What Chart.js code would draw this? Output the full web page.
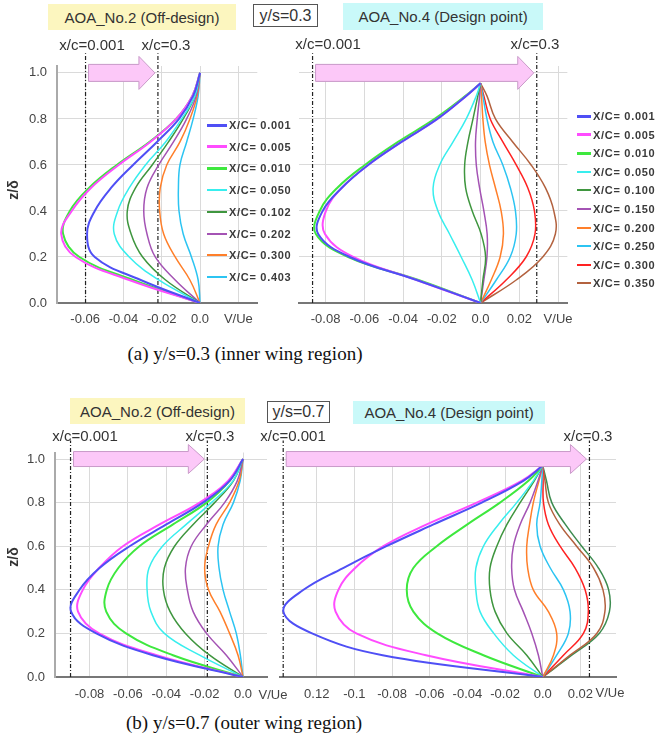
<!DOCTYPE html>
<html><head><meta charset="utf-8">
<script src="https://cdn.jsdelivr.net/npm/chart.js@4.4.1/dist/chart.umd.min.js"></script>
<style>
html,body{margin:0;padding:0;background:#fff;}
#wrap{position:relative;width:660px;height:742px;overflow:hidden;background:#fff;font-family:'Liberation Sans',Arial,sans-serif;color:#333;}
canvas{position:absolute;}
.t{position:absolute;transform:translate(-50%,-50%);white-space:nowrap;line-height:1;}
.box{position:absolute;display:flex;align-items:center;justify-content:center;font-size:15px;color:#333;box-sizing:border-box;white-space:nowrap;}
.cap{position:absolute;transform:translate(-50%,-50%);font-family:'Liberation Serif','Times New Roman',serif;font-size:19px;color:#111;white-space:nowrap;line-height:1;}
.leg{position:absolute;overflow:hidden;}
.leg .row{position:absolute;left:0;height:14px;display:flex;align-items:center;font-weight:bold;font-size:11px;letter-spacing:0.7px;color:#3a3a3a;white-space:nowrap;}
</style></head>
<body><div id="wrap"></div>
<script>
// ---------- heights (z/delta) ----------
const zA = [0,0.1,0.2,0.3,0.4,0.5,0.6,0.7,0.8,0.9,1.0];
const zB = [0,0.1,0.2,0.3,0.4,0.5,0.6,0.7,0.8,0.9,0.955];
const zC = [0,0.1,0.2,0.3,0.4,0.5,0.6,0.7,0.8,0.9,1.0];
const zD = [0,0.1,0.2,0.3,0.4,0.5,0.6,0.7,0.8,0.9,0.97];

// ---------- series labels ----------
const labelsA = ['X/C= 0.001','X/C= 0.005','X/C= 0.010','X/C= 0.050','X/C= 0.102','X/C= 0.202','X/C= 0.300','X/C= 0.403'];
const labelsB = ['X/C= 0.001','X/C= 0.005','X/C= 0.010','X/C= 0.050','X/C= 0.100','X/C= 0.150','X/C= 0.200','X/C= 0.250','X/C= 0.300','X/C= 0.350'];
const labelsC = ['X/C= 0.001','X/C= 0.005','X/C= 0.010','X/C= 0.050','X/C= 0.102','X/C= 0.202','X/C= 0.300','X/C= 0.403'];
const labelsD = ['X/C= 0.001','X/C= 0.005','X/C= 0.010','X/C= 0.050','X/C= 0.100','X/C= 0.150','X/C= 0.200','X/C= 0.250','X/C= 0.300','X/C= 0.350','X/C= 0.400'];

// ---------- (a) y/s=0.3, AOA_No.2 : V/Ue ----------
const A001 = [0,-0.031,-0.055,-0.059,-0.055,-0.0465,-0.035,-0.0225,-0.011,-0.0036,0];
const A005 = [0,-0.037,-0.065,-0.0725,-0.067,-0.057,-0.0425,-0.026,-0.0125,-0.004,0];
const A010 = [0,-0.035,-0.063,-0.0715,-0.068,-0.058,-0.0435,-0.0265,-0.0125,-0.004,0];
const A050 = [0,-0.0216,-0.037,-0.0448,-0.043,-0.037,-0.0285,-0.018,-0.0096,-0.0027,0];
const A102 = [0,-0.018,-0.030,-0.036,-0.038,-0.0337,-0.025,-0.0165,-0.0088,-0.0027,0];
const A202 = [0,-0.013,-0.0234,-0.0277,-0.0294,-0.0277,-0.0216,-0.0139,-0.007,-0.002,0];
const A300 = [0,-0.0053,-0.013,-0.019,-0.0211,-0.0208,-0.0174,-0.0105,-0.0053,-0.0015,0];
const A403 = [0,-0.001,-0.0045,-0.0088,-0.011,-0.0113,-0.0105,-0.007,-0.0036,-0.001,0];

// ---------- (a) y/s=0.3, AOA_No.4 ----------
const B001 = [0,-0.033,-0.0675,-0.0838,-0.0815,-0.0717,-0.058,-0.0408,-0.0223,-0.0074,0];
const B005 = [0,-0.033,-0.0657,-0.0803,-0.0798,-0.0717,-0.058,-0.0408,-0.0223,-0.0074,0];
const B010 = [0,-0.032,-0.0683,-0.085,-0.083,-0.074,-0.0597,-0.0426,-0.0237,-0.0078,0];
const B050 = [0,-0.0043,-0.010,-0.016,-0.022,-0.0245,-0.0211,-0.0142,-0.0074,-0.0022,0];
const B100 = [0,0.0012,0.0026,0.0003,-0.0043,-0.0077,-0.0082,-0.0065,-0.0039,-0.0014,0];
const B150 = [0,0.0017,0.0033,0.0034,0.0017,-0.0005,-0.0022,-0.0026,-0.0017,-0.0005,0];
const B200 = [0,0.0055,0.0101,0.0118,0.0106,0.0077,0.0046,0.0024,0.0012,0.0005,0];
const B250 = [0,0.0081,0.0153,0.0184,0.018,0.0154,0.0115,0.0064,0.0033,0.0012,0];
const B300 = [0,0.0132,0.0235,0.0281,0.0278,0.0244,0.0184,0.0115,0.005,0.0017,0];
const B350 = [0,0.0184,0.0321,0.0386,0.0378,0.0335,0.0261,0.0166,0.0077,0.0033,0];

// ---------- (b) y/s=0.7, AOA_No.2 ----------
const C001 = [0,-0.047,-0.0765,-0.0896,-0.0852,-0.0748,-0.0591,-0.040,-0.0209,-0.007,0];
const C005 = [0,-0.045,-0.075,-0.086,-0.0835,-0.075,-0.0626,-0.0435,-0.0226,-0.0078,0];
const C010 = [0,-0.0365,-0.061,-0.0713,-0.071,-0.065,-0.054,-0.0365,-0.019,-0.007,0];
const C050 = [0,-0.0226,-0.041,-0.048,-0.050,-0.049,-0.042,-0.0296,-0.0165,-0.0052,0];
const C102 = [0,-0.0174,-0.030,-0.038,-0.0415,-0.041,-0.0357,-0.026,-0.0148,-0.005,0];
const C202 = [0,-0.0087,-0.019,-0.026,-0.029,-0.030,-0.027,-0.019,-0.0096,-0.003,0];
const C300 = [0,-0.0026,-0.007,-0.012,-0.018,-0.020,-0.018,-0.014,-0.007,-0.002,0];
const C403 = [0,-0.0014,-0.0035,-0.007,-0.0104,-0.0125,-0.013,-0.0104,-0.005,-0.0015,0];

// ---------- (b) y/s=0.7, AOA_No.4 ----------
const D001 = [0,-0.085,-0.1225,-0.1377,-0.127,-0.106,-0.083,-0.058,-0.0324,-0.0103,0];
const D005 = [0,-0.062,-0.099,-0.110,-0.1085,-0.0996,-0.0846,-0.0616,-0.035,-0.0112,0];
const D010 = [0,-0.0315,-0.056,-0.0687,-0.0722,-0.0687,-0.0563,-0.040,-0.0227,-0.0076,0];
const D050 = [0,-0.0156,-0.026,-0.0333,-0.0355,-0.0355,-0.0315,-0.0235,-0.0138,-0.005,0];
const D100 = [0,-0.0085,-0.019,-0.0253,-0.028,-0.028,-0.0244,-0.019,-0.012,-0.0045,0];
const D150 = [0,-0.0023,-0.0058,-0.0103,-0.015,-0.0165,-0.0156,-0.012,-0.0067,-0.0025,0];
const D200 = [0,0.0057,0.0074,0.003,-0.005,-0.008,-0.0085,-0.007,-0.005,-0.002,0];
const D250 = [0,0.0074,0.0136,0.0145,0.011,0.004,-0.0014,-0.0032,-0.0014,-0.0005,0];
const D300 = [0,0.011,0.0216,0.0242,0.0225,0.0172,0.0092,0.003,0.0004,0.0002,0];
const D350 = [0,0.0145,0.0287,0.033,0.032,0.027,0.018,0.009,0.003,0.0012,0];
const D400 = [0,0.0154,0.030,0.0354,0.035,0.0296,0.0207,0.012,0.0048,0.002,0];

// ---------- x/c=0.001 and x/c=0.3 reference lines (V/Ue) ----------
const refA = [-0.0598,-0.022];
const refB = [-0.0867,0.029];
const refC = [-0.0899,-0.0186];
const refD = [-0.1378,0.0248];

// ---------- tick labels ----------
const xTickTextA = ['-0.06','-0.04','-0.02','0.0','V/Ue'];
const xTickTextB = ['-0.08','-0.06','-0.04','-0.02','0.0','0.02','V/Ue'];
const xTickTextC = ['-0.08','-0.06','-0.04','-0.02','0.0'];
const xTickTextD = ['0.12','-0.1','-0.08','-0.06','-0.04','-0.02','0.0','0.02'];
const yTickText = ['0.0','0.2','0.4','0.6','0.8','1.0'];

// ---------- styles ----------
const C_BLUE='#4f4ff5', C_MAG='#ff4cff', C_GRN='#3ee83e', C_CYAN='#38eeee', C_DKG='#3f963f',
      C_PUR='#a453b4', C_ORA='#ff7f2a', C_LTB='#2cc4f2', C_RED='#ff2222', C_BRN='#b3623f', C_SEA='#3d8c50';
const colorsA = [C_BLUE,C_MAG,C_GRN,C_CYAN,C_DKG,C_PUR,C_ORA,C_LTB];
const colorsB = [C_BLUE,C_MAG,C_GRN,C_CYAN,C_DKG,C_PUR,C_ORA,C_LTB,C_RED,C_BRN];
const colorsD = [C_BLUE,C_MAG,C_GRN,C_CYAN,C_DKG,C_PUR,C_ORA,C_LTB,C_RED,C_BRN,C_SEA];

const wrap = document.getElementById('wrap');
const FONT = 'Liberation Sans';

const arrowPlugin = {
  id: 'pinkArrow',
  afterDatasetsDraw(chart, args, o) {
    const xs = chart.scales.x, ys = chart.scales.y, ctx = chart.ctx;
    const x1 = xs.getPixelForValue(o.from) + 3, x2 = xs.getPixelForValue(o.to) - 3, y = ys.getPixelForValue(1);
    const L = 16;
    ctx.save();
    ctx.beginPath();
    ctx.moveTo(x1, y - o.h); ctx.lineTo(x2 - L, y - o.h); ctx.lineTo(x2 - L, y - o.H);
    ctx.lineTo(x2, y); ctx.lineTo(x2 - L, y + o.H); ctx.lineTo(x2 - L, y + o.h); ctx.lineTo(x1, y + o.h);
    ctx.closePath();
    ctx.fillStyle = '#fcc8f8'; ctx.fill();
    ctx.strokeStyle = '#c99ac9'; ctx.lineWidth = 1; ctx.stroke();
    ctx.restore();
  }
};

function makeChart(box, cfg) {
  const c = document.createElement('canvas');
  c.width = box.w; c.height = box.h;
  c.style.left = box.x + 'px'; c.style.top = box.y + 'px';
  c.style.width = box.w + 'px'; c.style.height = box.h + 'px';
  wrap.appendChild(c);
  const datasets = cfg.series.map((arr, i) => ({
    label: cfg.labels[i],
    data: arr.map((v, k) => ({x: v, y: cfg.z[k]})),
    borderColor: cfg.colors[i], backgroundColor: cfg.colors[i],
    borderWidth: i < 3 ? 2 : 1.5, tension: 0.4, pointRadius: 0, showLine: true, fill: false
  }));
  cfg.refs.forEach(r => datasets.push({
    label: 'ref', data: [{x: r, y: 0}, {x: r, y: 1.085}],
    borderColor: '#222', borderWidth: 1.2, borderDash: [4, 2, 1, 2],
    pointRadius: 0, showLine: true, tension: 0, clip: false
  }));
  new Chart(c, {
    type: 'scatter',
    data: {datasets},
    options: {
      responsive: false, animation: false, devicePixelRatio: 1,
      layout: {padding: cfg.pad},
      plugins: {legend: {display: false}, tooltip: {enabled: false},
        pinkArrow: {from: cfg.refs[0], to: cfg.refs[1], h: cfg.ah, H: cfg.aH}},
      scales: {
        x: {type: 'linear', position: 'bottom', min: cfg.xmin, max: cfg.xmax,
          grid: {color: '#dadada', lineWidth: 1, drawTicks: false},
          border: {display: true, color: '#777', width: 2},
          ticks: {stepSize: 0.02, includeBounds: false, autoSkip: false, maxRotation: 0, minRotation: 0,
            padding: cfg.xpad, color: '#444', font: {family: FONT, size: 13},
            callback: (v, i) => cfg.xtext[i]},
          afterFit: s => { s.height = cfg.xh; }},
        y: {type: 'linear', position: 'left', min: 0, max: 1.03,
          grid: {color: '#dadada', lineWidth: 1, drawTicks: false},
          border: {display: cfg.yaxis, color: '#aaa', width: 2},
          ticks: {display: cfg.yaxis, stepSize: 0.2, includeBounds: false, padding: 10, color: '#444',
            font: {family: FONT, size: 13}, callback: (v, i) => yTickText[i]},
          afterFit: s => { s.width = cfg.yw; }}
      }
    },
    plugins: [arrowPlugin]
  });
}

makeChart({x: 0, y: 40, w: 262, h: 290}, {
  z: zA, series: [A001,A005,A010,A050,A102,A202,A300,A403], labels: labelsA, colors: colorsA,
  refs: refA, xmin: -0.0747, xmax: 0.0299, xtext: xTickTextA,
  pad: {top: 26, right: 2, left: 0, bottom: 0}, yw: 57, xh: 27, xpad: 9, yaxis: true, ah: 8.5, aH: 16.5});
makeChart({x: 262, y: 40, w: 320, h: 290}, {
  z: zB, series: [B001,B005,B010,B050,B100,B150,B200,B250,B300,B350], labels: labelsB, colors: colorsB,
  refs: refB, xmin: -0.0937, xmax: 0.0448, xtext: xTickTextB,
  pad: {top: 26, right: 14, left: 37, bottom: 0}, yw: 0, xh: 27, xpad: 9, yaxis: false, ah: 8.5, aH: 16.5});
makeChart({x: 0, y: 430, w: 270, h: 280}, {
  z: zC, series: [C001,C005,C010,C050,C102,C202,C300,C403], labels: labelsC, colors: colorsA,
  refs: refC, xmin: -0.098, xmax: 0.0125, xtext: xTickTextC,
  pad: {top: 22.5, right: 3, left: 0, bottom: 0}, yw: 55, xh: 33, xpad: 10, yaxis: true, ah: 7.5, aH: 14.5});
makeChart({x: 270, y: 430, w: 350, h: 280}, {
  z: zD, series: [D001,D005,D010,D050,D100,D150,D200,D250,D300,D350,D400], labels: labelsD, colors: colorsD,
  refs: refD, xmin: -0.1395, xmax: 0.0389, xtext: xTickTextD,
  pad: {top: 22.5, right: 4, left: 10, bottom: 0}, yw: 0, xh: 33, xpad: 10, yaxis: false, ah: 7.5, aH: 14.5});

// ---------- text overlays ----------
function txt(s, cx, cy, style) {
  const d = document.createElement('div'); d.className = 't'; d.textContent = s;
  d.style.left = cx + 'px'; d.style.top = cy + 'px';
  Object.assign(d.style, style || {}); wrap.appendChild(d); return d;
}
function box(s, x, y, w, h, style) {
  const d = document.createElement('div'); d.className = 'box'; d.textContent = s;
  Object.assign(d.style, {left: x + 'px', top: y + 'px', width: w + 'px', height: h + 'px'}, style || {});
  wrap.appendChild(d); return d;
}
function cap(s, cx, cy) {
  const d = document.createElement('div'); d.className = 'cap'; d.textContent = s;
  d.style.left = cx + 'px'; d.style.top = cy + 'px'; wrap.appendChild(d);
}
function legend(labels, colors, x, y0, w, h, first, step, lineW) {
  const L = document.createElement('div'); L.className = 'leg';
  Object.assign(L.style, {left: x + 'px', top: y0 + 'px', width: w + 'px', height: h + 'px'});
  labels.forEach((lab, i) => {
    const r = document.createElement('div'); r.className = 'row';
    r.style.top = (first + i * step - y0 - 7) + 'px';
    const ln = document.createElement('span');
    Object.assign(ln.style, {display: 'inline-block', width: lineW + 'px', height: (i < 3 ? 3 : 2) + 'px',
      background: colors[i], marginRight: '2px'});
    r.appendChild(ln);
    const tx = document.createElement('span'); tx.textContent = lab; r.appendChild(tx);
    L.appendChild(r);
  });
  wrap.appendChild(L);
}

const big = {fontSize: '15px', color: '#333'};
// top row
box('AOA_No.2 (Off-design)', 48, 4, 188, 26, {background: '#fcf6bf'});
box('y/s=0.3', 253, 4, 65, 23, {border: '1px solid #555', background: '#fff', fontSize: '16px'});
box('AOA_No.4 (Design point)', 343, 3, 200, 27, {background: '#c9f9f9'});
txt('x/c=0.001', 92, 44, big);
txt('x/c=0.3', 166, 44, big);
txt('x/c=0.001', 328, 43, big);
txt('x/c=0.3', 535, 43, big);
txt('z/δ', 13, 190, {fontSize: '14px', fontWeight: 'bold', color: '#333', transform: 'translate(-50%,-50%) rotate(-90deg)'});
legend(labelsA, colorsA, 207, 110, 90, 180, 125, 21.7, 20);
legend(labelsB, colorsB, 577, 105, 83, 190, 116, 18.6, 14);
cap('(a) y/s=0.3 (inner wing region)', 245, 353);

// bottom row
box('AOA_No.2 (Off-design)', 70, 398, 175, 26, {background: '#fcf6bf'});
box('y/s=0.7', 267, 401, 63, 22, {border: '1px solid #555', background: '#fff', fontSize: '16px'});
box('AOA_No.4 (Design point)', 353, 401, 192, 23, {background: '#c9f9f9'});
txt('x/c=0.001', 85, 435, big);
txt('x/c=0.3', 210, 435, big);
txt('x/c=0.001', 293, 435, big);
txt('x/c=0.3', 588, 435, big);
txt('z/δ', 13, 557, {fontSize: '14px', fontWeight: 'bold', color: '#333', transform: 'translate(-50%,-50%) rotate(-90deg)'});
txt('V/Ue', 273, 694, {fontSize: '13px', color: '#444'});
txt('V/Ue', 610, 692, {fontSize: '13px', color: '#444'});
cap('(b) y/s=0.7 (outer wing region)', 244, 722);
</script>
</body></html>
